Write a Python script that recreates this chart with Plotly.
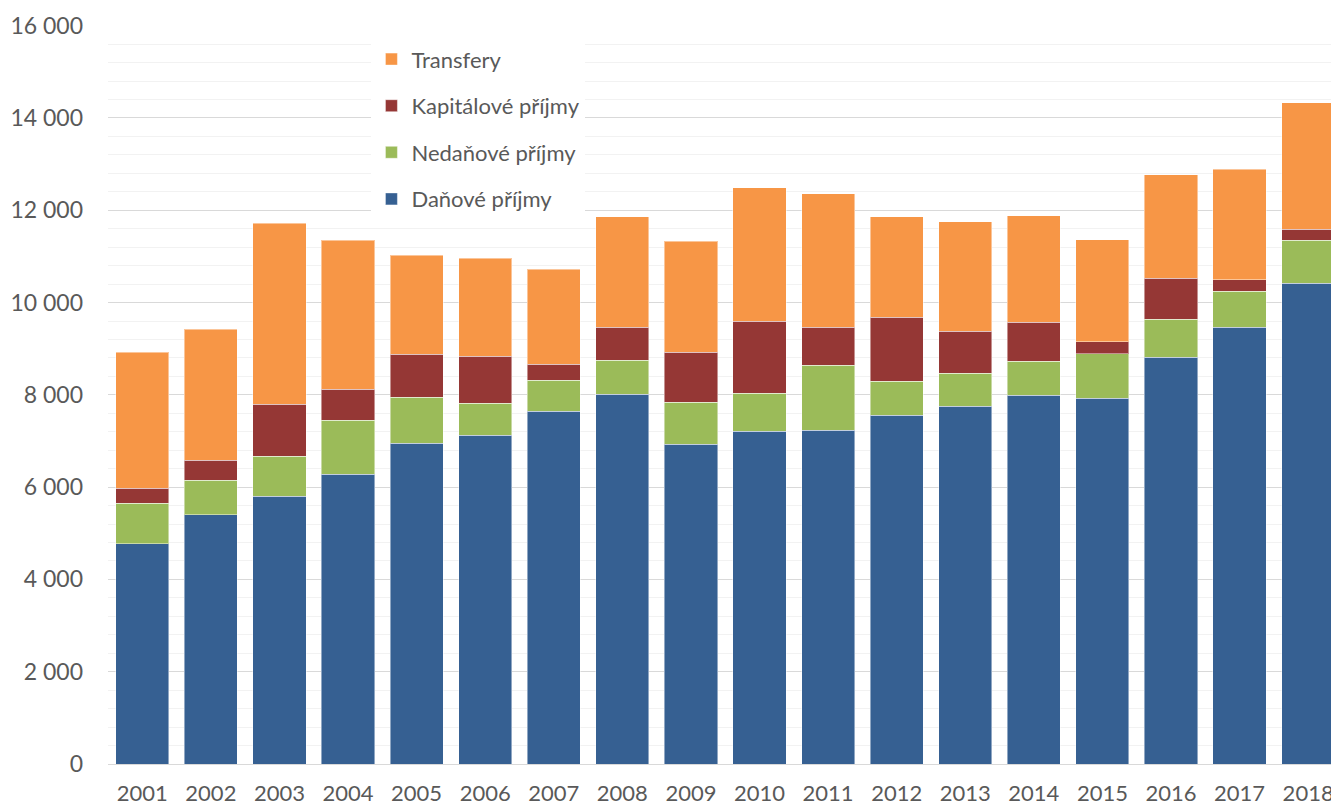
import plotly.graph_objects as go

years = [str(y) for y in range(2001, 2019)]
danove = [4770, 5400, 5800, 6280, 6950, 7120, 7640, 8010, 6930, 7210, 7230, 7560, 7750, 7990, 7925, 8810, 9460, 10420]
nedanove = [880, 750, 870, 1170, 1000, 700, 680, 740, 910, 820, 1410, 740, 720, 740, 970, 825, 780, 930]
kapitalove = [325, 430, 1125, 670, 930, 1015, 340, 715, 1080, 1560, 820, 1385, 905, 845, 260, 890, 255, 235]
transfery = [2945, 2840, 3920, 3225, 2140, 2120, 2060, 2400, 2405, 2900, 2900, 2180, 2380, 2310, 2210, 2250, 2390, 2750]

series = [
    ("Daňové příjmy", danove, "#366092", 4),
    ("Nedaňové příjmy", nedanove, "#9bbb59", 3),
    ("Kapitálové příjmy", kapitalove, "#953735", 2),
    ("Transfery", transfery, "#f79646", 1),
]

fig = go.Figure()
for i, (name, vals, col, rank) in enumerate(series):
    fig.add_trace(go.Bar(
        x=years, y=vals, name=name, legendgroup=str(i), legendrank=rank,
        marker=dict(color=col, line=dict(color="rgba(255,255,255,0.45)", width=1)),
    ))

font_family = "Lato, 'Open Sans', sans-serif"
fig.update_layout(
    barmode="stack",
    bargap=0.225,
    width=1331, height=802,
    margin=dict(l=100, r=0, t=17, b=46, autoexpand=False),
    paper_bgcolor="white", plot_bgcolor="white",
    separators=", ",
    font=dict(family=font_family, size=23, color="#595959"),
    legend=dict(
        x=0.214, y=0.982, xanchor="left", yanchor="top",
        bgcolor="white", traceorder="grouped", tracegroupgap=15,
        font=dict(size=22, color="#595959"),
    ),
    xaxis=dict(range=[-0.5, 17.45], showline=False, ticks="", tickfont=dict(size=22),
               showgrid=False, ticklabelstandoff=14, automargin=False),
    yaxis=dict(range=[0, 16015], tickvals=[0, 2000, 4000, 6000, 8000, 10000, 12000, 14000, 16000],
               tickformat=",d", automargin=False,
               showgrid=True, gridcolor="#d9d9d9", gridwidth=1.3,
               zeroline=True, zerolinecolor="#d9d9d9", zerolinewidth=1.3,
               tickfont=dict(size=23), ticks="", ticklabelstandoff=24,
               minor=dict(dtick=400, showgrid=True, gridcolor="#f2f2f2", gridwidth=1.3)),
)

fig.write_html("out.html")
